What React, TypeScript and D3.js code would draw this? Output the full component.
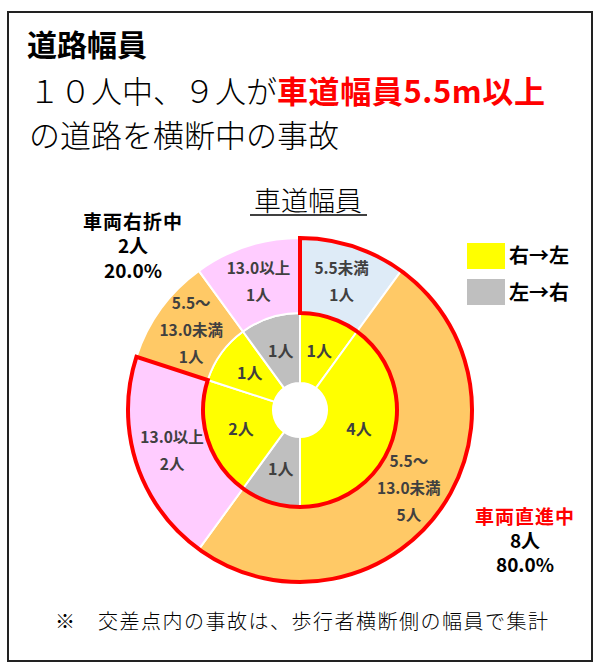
import React from 'react';
import * as d3 from 'd3';

// ---- data ----
const outerCategories = ['5.5未満', '5.5～13.0未満', '13.0以上', '5.5～13.0未満', '13.0以上'];
const outerValues = [1, 5, 2, 1, 1];
const innerDirections = ['右→左', '右→左', '左→右', '右→左', '右→左', '左→右'];
const innerValues = [1, 4, 1, 2, 1, 1];
const groupNames = ['車両直進中', '車両右折中'];
const groupValues = [8, 2];
const legendLabels = ['右→左', '左→右'];

const categoryColors: Record<string, string> = {
  '5.5未満': '#DEEBF7',
  '5.5～13.0未満': '#FFC966',
  '13.0以上': '#FFCCFF',
};
const directionColors: Record<string, string> = {
  '右→左': '#FFFF00',
  '左→右': '#BFBFBF',
};

const FONT = '"Noto Sans CJK JP", "Noto Sans", sans-serif';

export default function App() {
  const W = 598;
  const H = 667;
  const cx = 300;
  const cy = 410;
  const rHole = 27;
  const rMid = 97;
  const rOuter = 172;

  const pie = d3.pie<number>().sort(null).value((d) => d);
  const outerArcs = pie(outerValues);
  const innerArcs = pie(innerValues);
  const groupArcs = pie(groupValues);

  const outerArc = d3.arc<d3.PieArcDatum<number>>().innerRadius(rMid).outerRadius(rOuter);
  const innerArc = d3.arc<d3.PieArcDatum<number>>().innerRadius(rHole).outerRadius(rMid);
  const outerLabelArc = d3.arc<d3.PieArcDatum<number>>().innerRadius((rMid + rOuter) / 2).outerRadius((rMid + rOuter) / 2);
  const innerLabelArc = d3.arc<d3.PieArcDatum<number>>().innerRadius((rHole + rMid) / 2).outerRadius((rHole + rMid) / 2);

  const total = d3.sum(groupValues);

  const splitCat = (c: string) => {
    const i = c.indexOf('～');
    return i >= 0 ? [c.slice(0, i + 1), c.slice(i + 1)] : [c];
  };

  return (
    <svg width={W} height={H} style={{ position: 'absolute', left: 0, top: 0 }} fontFamily={FONT}>
      <rect x={0} y={0} width={W} height={H} fill="#fff" />
      <rect x={8} y={12} width={584} height={649} fill="#fff" stroke="#222" strokeWidth={2} />

      {/* Titles */}
      <text x={27} y={56} fontSize={30} fontWeight={700} fill="#000">道路幅員</text>
      <text x={29} y={103} fontSize={31} fontWeight={300} fill="#000">
        <tspan>１０人中、９人が</tspan>
        <tspan fill="#FF0000" fontWeight={700} letterSpacing={0.6}>車道幅員5.5m以上</tspan>
      </text>
      <text x={29} y={147} fontSize={31} fontWeight={300} fill="#000">の道路を横断中の事故</text>

      <text x={308} y={211} fontSize={27} fontWeight={300} textAnchor="middle" fill="#000">車道幅員</text>
      <line x1={250} x2={367} y1={215} y2={215} stroke="#000" strokeWidth={1.5} />

      <g transform={`translate(${cx},${cy})`}>
        {innerArcs.map((a, i) => (
          <path key={'in' + i} d={innerArc(a) || ''} fill={directionColors[innerDirections[i]]} stroke="#fff" strokeWidth={2} />
        ))}
        {outerArcs.map((a, i) => (
          <path key={'out' + i} d={outerArc(a) || ''} fill={categoryColors[outerCategories[i]]} stroke="#fff" strokeWidth={2} />
        ))}
        <path d={outerArc(groupArcs[0]) || ''} fill="none" stroke="#FF0000" strokeWidth={4} strokeLinejoin="miter" />

        {innerArcs.map((a, i) => {
          const [x, y] = innerLabelArc.centroid(a);
          return (
            <text key={'il' + i} x={x} y={y} dy="0.35em" textAnchor="middle" fontSize={16} fontWeight={700} fill="#404040">
              {innerValues[i]}人
            </text>
          );
        })}
        {outerArcs.map((a, i) => {
          const [x, y] = outerLabelArc.centroid(a);
          const lines = [...splitCat(outerCategories[i]), `${outerValues[i]}人`];
          const lh = 27;
          const y0 = y - ((lines.length - 1) * lh) / 2;
          return (
            <g key={'ol' + i}>
              {lines.map((l, j) => (
                <text key={j} x={x} y={y0 + j * lh} dy="0.35em" textAnchor="middle" fontSize={15.5} fontWeight={700} fill="#404040">
                  {l}
                </text>
              ))}
            </g>
          );
        })}
      </g>

      {/* group labels */}
      <g fontSize={19} fontWeight={700} textAnchor="middle">
        <text x={133} y={229} fill="#000" letterSpacing={1}>{groupNames[1]}</text>
        <text x={133} y={253} fill="#000">{groupValues[1]}人</text>
        <text x={133} y={278} fill="#000">{((groupValues[1] / total) * 100).toFixed(1)}%</text>
        <text x={525} y={524} fill="#FF0000" letterSpacing={1}>{groupNames[0]}</text>
        <text x={525} y={548} fill="#000">{groupValues[0]}人</text>
        <text x={525} y={572} fill="#000">{((groupValues[0] / total) * 100).toFixed(1)}%</text>
      </g>

      {/* legend */}
      {legendLabels.map((l, i) => (
        <g key={'lg' + i}>
          <rect x={467} y={243 + i * 36} width={38} height={26} fill={directionColors[l]} />
          <text x={509} y={263 + i * 37} fontSize={20} fontWeight={700} fill="#000">{l}</text>
        </g>
      ))}

      <text x={55} y={629} fontSize={20} fontWeight={300} fill="#000">※</text>
      <text x={98} y={629} fontSize={20} fontWeight={300} fill="#000" letterSpacing={1.5}>交差点内の事故は、歩行者横断側の幅員で集計</text>
    </svg>
  );
}
